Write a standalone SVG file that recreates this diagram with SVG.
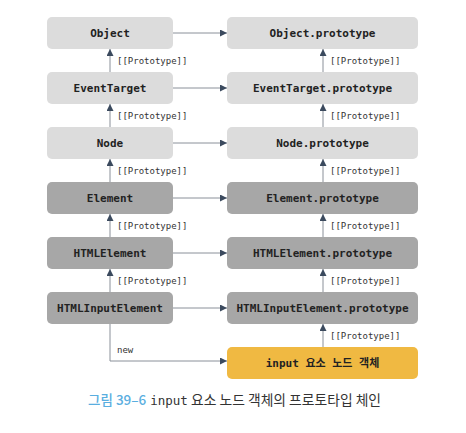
<svg xmlns="http://www.w3.org/2000/svg" width="466" height="433" viewBox="0 0 466 433">
<style>
.box{stroke:none}
.light{fill:#dcdcdc}
.dark{fill:#a7a7a7}
.yellow{fill:#f0b942}
.t{font-family:"DejaVu Sans Mono","Noto Sans CJK KR",monospace;font-size:11px;font-weight:bold;fill:#222;text-anchor:middle;dominant-baseline:central}
.lbl{font-family:"DejaVu Sans Mono",monospace;font-size:9px;fill:#333}
.ln{stroke:#8a9099;stroke-width:1;fill:none}
</style>
<defs>
<marker id="ah" viewBox="0 0 10 10" refX="10" refY="5" markerWidth="7" markerHeight="7" markerUnits="userSpaceOnUse" orient="auto">
<path d="M0,0 L10,5 L0,10 z" fill="#3b4a5e"/>
</marker>
</defs>
<rect width="466" height="433" fill="#fff"/>
<g id="connectors">
<path class="ln" marker-end="url(#ah)" d="M173,33 H227"/>
<path class="ln" marker-end="url(#ah)" d="M173,88 H227"/>
<path class="ln" marker-end="url(#ah)" d="M173,143 H227"/>
<path class="ln" marker-end="url(#ah)" d="M173,198 H227"/>
<path class="ln" marker-end="url(#ah)" d="M173,253 H227"/>
<path class="ln" marker-end="url(#ah)" d="M173,308 H227"/>
<path class="ln" marker-end="url(#ah)" d="M110,72 V49"/>
<path class="ln" marker-end="url(#ah)" d="M110,127 V104"/>
<path class="ln" marker-end="url(#ah)" d="M110,182 V159"/>
<path class="ln" marker-end="url(#ah)" d="M110,237 V214"/>
<path class="ln" marker-end="url(#ah)" d="M110,292 V269"/>
<path class="ln" marker-end="url(#ah)" d="M323,72 V49"/>
<path class="ln" marker-end="url(#ah)" d="M323,127 V104"/>
<path class="ln" marker-end="url(#ah)" d="M323,182 V159"/>
<path class="ln" marker-end="url(#ah)" d="M323,237 V214"/>
<path class="ln" marker-end="url(#ah)" d="M323,292 V269"/>
<path class="ln" marker-end="url(#ah)" d="M323,347 V324"/>
<path class="ln" marker-end="url(#ah)" d="M110,324 V361 H227"/>
<text class="lbl" x="117" y="64">[[Prototype]]</text>
<text class="lbl" x="117" y="119">[[Prototype]]</text>
<text class="lbl" x="117" y="174">[[Prototype]]</text>
<text class="lbl" x="117" y="229">[[Prototype]]</text>
<text class="lbl" x="117" y="284">[[Prototype]]</text>
<text class="lbl" x="330" y="64">[[Prototype]]</text>
<text class="lbl" x="330" y="119">[[Prototype]]</text>
<text class="lbl" x="330" y="174">[[Prototype]]</text>
<text class="lbl" x="330" y="229">[[Prototype]]</text>
<text class="lbl" x="330" y="284">[[Prototype]]</text>
<text class="lbl" x="330" y="339">[[Prototype]]</text>
<text class="lbl" x="117" y="353">new</text>
</g>
<g id="n-object"><rect class="box light" x="47" y="17" width="126" height="32" rx="5"/><text class="t" x="110" y="33">Object</text></g>
<g id="n-eventtarget"><rect class="box light" x="47" y="72" width="126" height="32" rx="5"/><text class="t" x="110" y="88">EventTarget</text></g>
<g id="n-node"><rect class="box light" x="47" y="127" width="126" height="32" rx="5"/><text class="t" x="110" y="143">Node</text></g>
<g id="n-element"><rect class="box dark" x="47" y="182" width="126" height="32" rx="5"/><text class="t" x="110" y="198">Element</text></g>
<g id="n-htmlelement"><rect class="box dark" x="47" y="237" width="126" height="32" rx="5"/><text class="t" x="110" y="253">HTMLElement</text></g>
<g id="n-htmlinputelement"><rect class="box dark" x="47" y="292" width="126" height="32" rx="5"/><text class="t" x="110" y="308">HTMLInputElement</text></g>
<g id="p-object"><rect class="box light" x="227" y="17" width="191" height="32" rx="5"/><text class="t" x="322.5" y="33">Object.prototype</text></g>
<g id="p-eventtarget"><rect class="box light" x="227" y="72" width="191" height="32" rx="5"/><text class="t" x="322.5" y="88">EventTarget.prototype</text></g>
<g id="p-node"><rect class="box light" x="227" y="127" width="191" height="32" rx="5"/><text class="t" x="322.5" y="143">Node.prototype</text></g>
<g id="p-element"><rect class="box dark" x="227" y="182" width="191" height="32" rx="5"/><text class="t" x="322.5" y="198">Element.prototype</text></g>
<g id="p-htmlelement"><rect class="box dark" x="227" y="237" width="191" height="32" rx="5"/><text class="t" x="322.5" y="253">HTMLElement.prototype</text></g>
<g id="p-htmlinputelement"><rect class="box dark" x="227" y="292" width="191" height="32" rx="5"/><text class="t" x="322.5" y="308">HTMLInputElement.prototype</text></g>
<g id="n-input"><rect class="box yellow" x="227" y="347" width="191" height="32" rx="5"/><text class="t" x="322.5" y="363">input 요소 노드 객체</text></g>
<g id="caption">
<text x="88" y="405" font-family="'Noto Sans CJK KR','Noto Sans',sans-serif" font-size="13.8"><tspan fill="#5aaee0" font-weight="500" font-size="13.5">그림 39–6</tspan><tspan fill="#333" dx="4" font-family="'DejaVu Sans Mono',monospace" font-size="12.5">input</tspan><tspan fill="#333"> 요소 노드 객체의 프로토타입 체인</tspan></text>
</g>
</svg>
